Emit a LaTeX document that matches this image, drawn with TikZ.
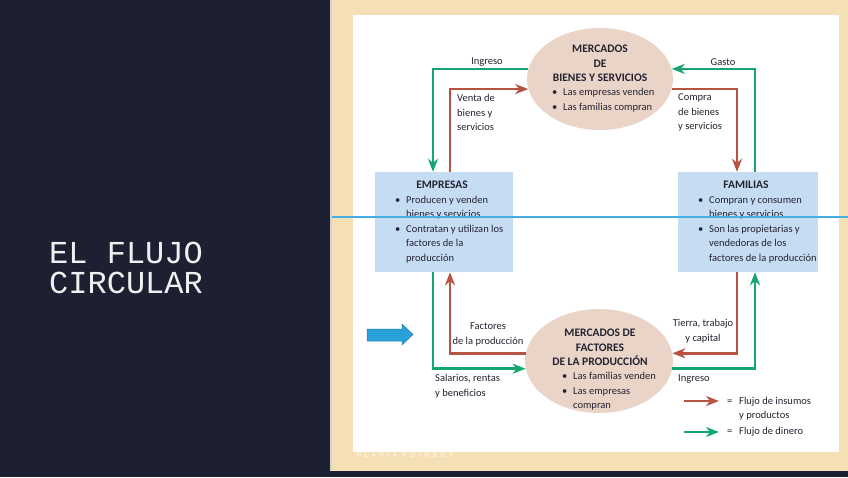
\documentclass[tikz,border=0pt]{standalone}
\usepackage{fontspec}
\setmainfont{Carlito}
\newfontfamily\titfont{Liberation Mono}
\newfontfamily\firmafont[LetterSpace=55]{Liberation Sans}
\usetikzlibrary{arrows.meta,shapes.geometric}

\definecolor{panel}{RGB}{28,32,48}
\definecolor{trigo}{RGB}{245,223,181}
\definecolor{elipse}{RGB}{234,212,199}
\definecolor{cajaazul}{RGB}{198,220,242}
\definecolor{verde}{RGB}{20,166,110}
\definecolor{rojo}{RGB}{184,82,66}
\definecolor{lineaazul}{RGB}{70,175,225}
\definecolor{azul}{RGB}{40,160,218}
\definecolor{tinta}{RGB}{35,35,50}

\newcommand{\vineta}{\makebox[11pt][l]{\textbullet}}
\newcommand{\sangria}{\hspace*{11pt}}

\tikzset{
  mercado/.style={ellipse, fill=elipse, inner sep=0pt},
  caja/.style={rectangle, fill=cajaazul, inner sep=0pt},
  encab/.style={font=\bfseries\fontsize{11.5}{14.5}\selectfont, text=tinta, align=center, inner sep=0pt},
  lista/.style={font=\fontsize{10.5}{14.5}\selectfont, text=tinta, align=left, anchor=west, inner sep=0pt},
  etiq/.style={font=\fontsize{10.5}{14.5}\selectfont, text=tinta, align=left, inner sep=0pt},
  punta/.style={-{Stealth[length=13pt,width=10pt,inset=4pt]}},
  bienes/.style={draw=rojo, line width=2.6pt, punta},
  dinero/.style={draw=verde, line width=2.6pt, punta}
}

\begin{document}
\begin{tikzpicture}[x=1pt,y=-1pt]
  \useasboundingbox (0,0) rectangle (848,477);
  \fill[panel] (0,0) rectangle (848,477);
  \fill[gray!35] (329.5,0) rectangle (332,471);
  \fill[trigo] (332,0) rectangle (848,471);
  \fill[white] (353,15) rectangle (839,452);

  \node[anchor=west, align=left, inner sep=0pt, text=white!88!gray,
        font=\titfont\fontsize{32}{30}\selectfont] (titulo) at (49,268) {EL FLUJO\\CIRCULAR};
  \node[anchor=west, inner sep=0pt, text=white, font=\firmafont\fontsize{6.5}{8}\selectfont]
        (firma) at (357,455) {FLAVIA POINSOT};

  \node[mercado, minimum width=146pt, minimum height=102pt] (mbs) at (600,79) {};
  \node[encab] (mbs-t) at (600,63.5) {MERCADOS\\DE\\BIENES Y SERVICIOS};
  \node[lista] (mbs-l) at (552,100) {\vineta Las empresas venden\\\vineta Las familias compran};

  \node[mercado, minimum width=148pt, minimum height=104pt] (mfp) at (599,361) {};
  \node[encab] (mfp-t) at (600,347.5) {MERCADOS DE\\FACTORES\\DE LA PRODUCCIÓN};
  \node[lista] (mfp-l) at (562,391.5) {\vineta Las familias venden\\\vineta Las empresas\\\sangria compran};

  \node[caja, minimum width=138pt, minimum height=100pt] (emp) at (444,222) {};
  \node[encab] (emp-t) at (442,185) {EMPRESAS};
  \node[lista] (emp-l) at (395,229.5) {\vineta Producen y venden\\\sangria bienes y servicios\\
    \vineta Contratan y utilizan los\\\sangria factores de la\\\sangria producción};

  \node[caja, minimum width=140pt, minimum height=100pt] (fam) at (748,222) {};
  \node[encab] (fam-t) at (746,185) {FAMILIAS};
  \node[lista] (fam-l) at (698,229.5) {\vineta Compran y consumen\\\sangria bienes y servicios\\
    \vineta Son las propietarias y\\\sangria vendedoras de los\\\sangria factores de la producción};

  \draw[dinero] (mbs.172) -| ([xshift=-11pt]emp.north);
  \draw[bienes] ([xshift=6pt]emp.north) |- (mbs.188);
  \draw[dinero] ([xshift=7pt]fam.north) |- (mbs.8);
  \draw[bienes] (mbs.352) -| ([xshift=-11pt]fam.north);
  \draw[bienes] (mfp.174) -| ([xshift=6pt]emp.south);
  \draw[dinero] ([xshift=-11pt]emp.south) |- (mfp.186);
  \draw[bienes] ([xshift=-11pt]fam.south) |- (mfp.6);
  \draw[dinero] (mfp.354) -| ([xshift=7pt]fam.south);

  \node[etiq] (e-ingreso) at (487,62) {Ingreso};
  \node[etiq, anchor=west] (e-venta) at (457,112.5) {Venta de\\bienes y\\servicios};
  \node[etiq] (e-gasto) at (723,62) {Gasto};
  \node[etiq, anchor=west] (e-compra) at (678,112.5) {Compra\\de bienes\\y servicios};
  \node[etiq, align=center] (e-factores) at (488,334.5) {Factores\\de la producción};
  \node[etiq, align=center] (e-tierra) at (703,331) {Tierra, trabajo\\y capital};
  \node[etiq, anchor=west] (e-salarios) at (435,386) {Salarios, rentas\\y beneficios};
  \node[etiq, anchor=west] (e-ingreso2) at (678,379) {Ingreso};

  \coordinate (ley1a) at (684,401);
  \coordinate (ley1b) at (719,401);
  \coordinate (ley2a) at (684,432);
  \coordinate (ley2b) at (719,432);
  \draw[bienes] (ley1a) -- (ley1b);
  \draw[dinero] (ley2a) -- (ley2b);
  \node[etiq, anchor=west] (e-insumos) at (727,408.5)
    {\makebox[12pt][l]{=}Flujo de insumos\\\hspace*{12pt}y productos};
  \node[etiq, anchor=west] (e-dinero) at (727,432) {\makebox[12pt][l]{=}Flujo de dinero};

  \filldraw[fill=azul, draw=azul!80!black, line width=0.5pt]
    (367,329) -- (402,329) -- (402,324) -- (413,334.5) -- (402,345) -- (402,341) -- (367,341) -- cycle;

  \fill[lineaazul] (332,216.3) rectangle (848,217.7);
\end{tikzpicture}
\end{document}
